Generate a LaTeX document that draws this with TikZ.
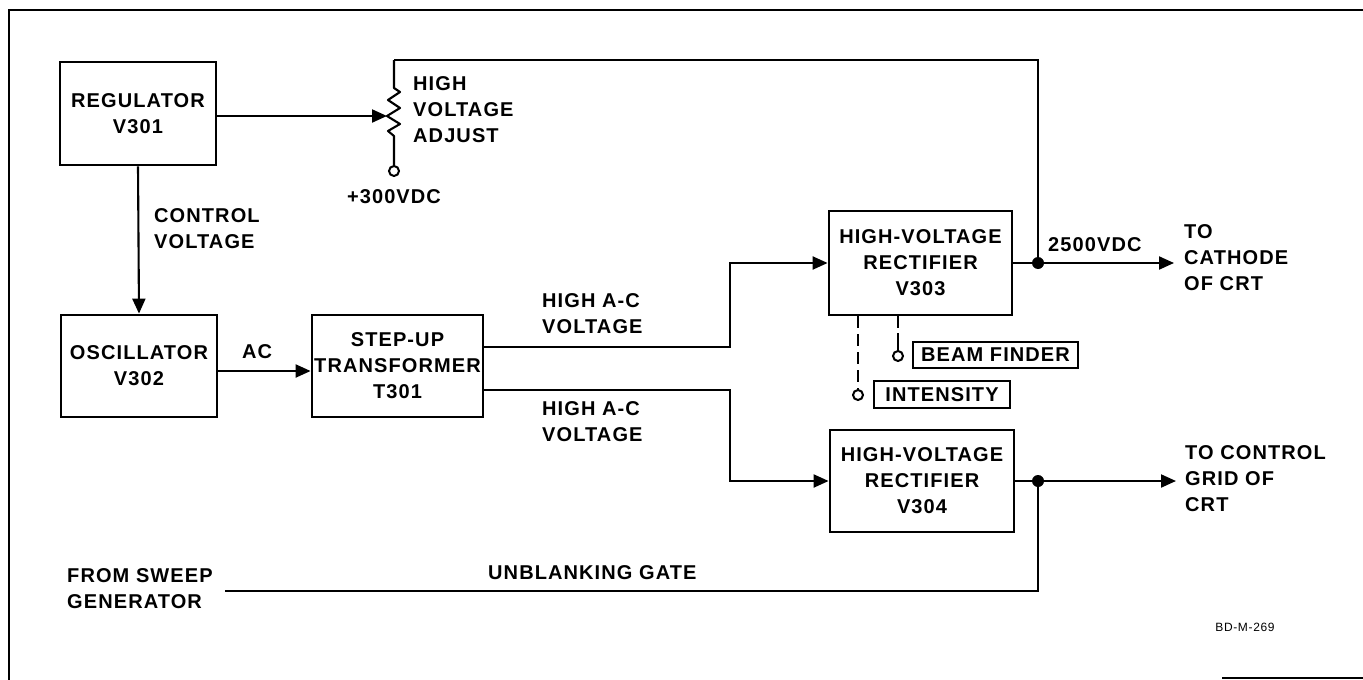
\documentclass[tikz,border=0pt]{standalone}
\usepackage{fontspec}
\setmainfont{Liberation Sans}[LetterSpace=5.5]
\usetikzlibrary{arrows.meta,calc}
\newcommand\dgfont{\fontsize{20}{26}\selectfont\bfseries}
\newcommand\dgsmall{\fontsize{12}{14}\selectfont}
\begin{document}
\begin{tikzpicture}[x=1pt,y=-1pt,
  wire/.style={line width=2.1pt},
  arr/.style={wire,-{Triangle[length=15pt,width=13pt]}},
  blk/.style={draw,line width=2.8pt,inner sep=0pt,align=center,font=\dgfont},
  lbl/.style={inner sep=0pt,align=left,font=\dgfont},
  tag/.style={draw,line width=2pt,inner sep=0pt,align=center,font=\dgfont},
  term/.style={draw,line width=2pt,fill=white,circle,inner sep=0pt,minimum size=10pt},
  dot/.style={fill,circle,inner sep=0pt,minimum size=12pt},
  dsh/.style={wire,dash pattern=on 12pt off 6pt}]
\useasboundingbox (0,0) rectangle (1363,680);
\fill[white] (0,0) rectangle (1363,680);
% frame
\draw[line width=2.6pt] (1363,10) -- (9,10) -- (9,680);
\draw[line width=2.6pt] (1222,678) -- (1363,678);

% blocks
\node[blk,minimum width=156pt,minimum height=103pt] (reg) at (138,113.5) {REGULATOR\\V301};
\node[blk,minimum width=156pt,minimum height=102pt] (osc) at (139,366) {OSCILLATOR\\V302};
\node[blk,minimum width=171pt,minimum height=102pt] (xfmr) at (397.5,366) {STEP-UP\\TRANSFORMER\\T301};
\node[blk,minimum width=183pt,minimum height=104pt] (v303) at (920.5,263) {HIGH-VOLTAGE\\RECTIFIER\\V303};
\node[blk,minimum width=184pt,minimum height=102pt] (v304) at (922,481) {HIGH-VOLTAGE\\RECTIFIER\\V304};

% potentiometer
\coordinate (pottop) at (394,60);
\coordinate (zz1) at (394,88);
\coordinate (wiper) at (387,116);
\coordinate (zz2) at (394,136);
\node[term] (p300) at (394,171) {};
\draw[wire,line join=round] (pottop) -- (zz1) -- (400,92) -- (388,100) -- (400,108) -- (wiper) -- (400,124) -- (388,131) -- (zz2) -- (p300);
\draw[arr] (reg.east |- wiper) -- (wiper);

% junctions and ends
\node[dot] (j1) at (1038,263) {};
\node[dot] (j2) at (1038,481) {};
\coordinate (cath) at (1174,263);
\coordinate (grid) at (1176,481);
\coordinate (bus1) at (730,300);
\coordinate (bus2) at (730,440);
\coordinate (sweep) at (225,591);

\draw[wire] (pottop) -| (j1);
\draw[arr] (reg.south) -- (osc.north);
\draw[arr] ([yshift=-5pt]osc.east) -- ([yshift=-5pt]xfmr.west);
\draw[arr] ([yshift=19pt]xfmr.east) -| (bus1) |- (v303.west);
\draw[arr] ([yshift=-24pt]xfmr.east) -| (bus2) |- (v304.west);
\draw[wire] (v303.east) -- (j1);
\draw[arr] (j1) -- (cath);
\draw[wire] (v304.east) -- (j2);
\draw[arr] (j2) -- (grid);
\draw[wire] (sweep) -| (j2);

% beam finder / intensity
\node[term] (tb) at (898,356) {};
\node[term] (ti) at (858,395) {};
\node[tag,minimum width=165pt,minimum height=26pt] (beam) at (995.5,355) {BEAM FINDER};
\node[tag,minimum width=136pt,minimum height=27pt] (inten) at (942,394.5) {INTENSITY};
\coordinate (bsplit) at (898,333);
\draw[dsh] (v303.south -| tb) -- (bsplit);
\draw[wire] (bsplit) -- (tb);
\draw[dsh] (v303.south -| ti) -- (ti);

% labels
\node[lbl,anchor=west] (hva) at (413,110) {HIGH\\VOLTAGE\\ADJUST};
\node[lbl] (l300) at (394,197) {+300VDC};
\node[lbl,anchor=west] (cv) at (154,229) {CONTROL\\VOLTAGE};
\node[lbl] (ac) at (257,352) {AC};
\node[lbl,anchor=west] (hac1) at (542,314) {HIGH A-C\\VOLTAGE};
\node[lbl,anchor=west] (hac2) at (542,422) {HIGH A-C\\VOLTAGE};
\node[lbl,anchor=west] (v2500) at (1048,245) {2500VDC};
\node[lbl,anchor=west] (tcat) at (1184,258) {TO\\CATHODE\\OF CRT};
\node[lbl,anchor=west] (tgrid) at (1185,479) {TO CONTROL\\GRID OF\\CRT};
\node[lbl,anchor=west] (fsw) at (67,589) {FROM SWEEP\\GENERATOR};
\node[lbl,anchor=west] (ubg) at (488,573) {UNBLANKING GATE};
\node[inner sep=0pt,font=\dgsmall] (bdm) at (1245,627) {BD-M-269};
\end{tikzpicture}
\end{document}
